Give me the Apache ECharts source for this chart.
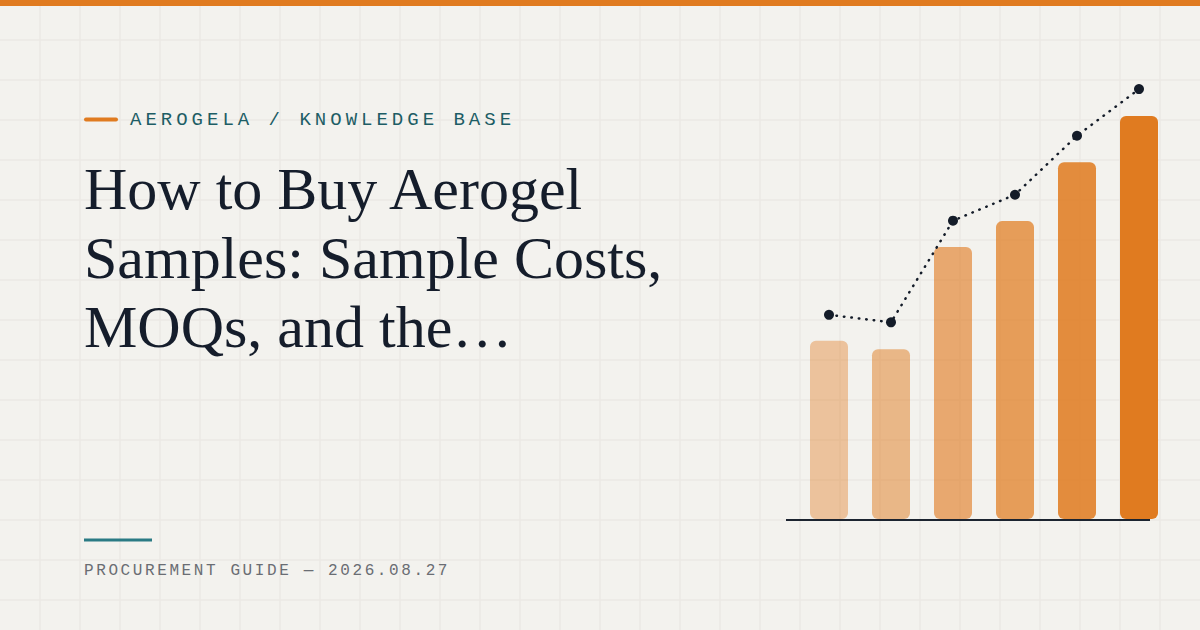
<!DOCTYPE html>
<html>
<head>
<meta charset="utf-8">
<script src="https://cdn.jsdelivr.net/npm/echarts@6/dist/echarts.min.js"></script>
<style>
  html, body { margin: 0; padding: 0; background: #f3f2ee; }
  #chart { width: 1200px; height: 630px; }
  #chart text[style*="Mono"][style*="19px"] { letter-spacing: 4.0px; }
  #chart text[style*="Mono"][style*="16px"] { letter-spacing: 2.6px; }
</style>
</head>
<body>
<div id="chart"></div>
<script>
// ---- data ----
const categories = ['1', '2', '3', '4', '5', '6'];
const barValues = [40.5, 38.6, 61.8, 67.7, 81.1, 91.6];
const lineValues = [46.4, 44.7, 67.8, 73.7, 87.1, 97.7];
const barOpacity = [0.4, 0.5, 0.62, 0.72, 0.86, 1.0];
const eyebrowText = 'AEROGELA / KNOWLEDGE BASE';
const titleLines = ['How to Buy Aerogel', 'Samples: Sample Costs,', 'MOQs, and the\u2026'];
const footerText = 'PROCUREMENT GUIDE \u2014 2026.08.27';

// ---- styling ----
const ORANGE = '#e07b20';
const BG = '#f3f2ee';
const GRIDLINE = '#ebe9e4';

const graphics = [];
for (let x = 40; x < 1200; x += 40) {
  graphics.push({ type: 'line', z: 0, silent: true,
    shape: { x1: x, y1: 0, x2: x, y2: 630 },
    style: { stroke: GRIDLINE, lineWidth: 1.5 } });
}
for (let y = 40; y < 630; y += 40) {
  graphics.push({ type: 'line', z: 0, silent: true,
    shape: { x1: 0, y1: y, x2: 1200, y2: y },
    style: { stroke: GRIDLINE, lineWidth: 1.5 } });
}
graphics.push({ type: 'rect', z: 10, shape: { x: 0, y: 0, width: 1200, height: 6 }, style: { fill: ORANGE } });
graphics.push({ type: 'line', z: 10, shape: { x1: 86, y1: 119.5, x2: 116, y2: 119.5 },
  style: { stroke: ORANGE, lineWidth: 4, lineCap: 'round' } });
graphics.push({ type: 'text', z: 10, x: 130, y: 120,
  style: { text: eyebrowText, fill: '#1d5d65', fontFamily: 'Liberation Mono', fontSize: 19,
    textAlign: 'left', textVerticalAlign: 'middle' } });
titleLines.forEach((t, i) => {
  graphics.push({ type: 'text', z: 10, x: 84, y: 189 + i * 69,
    style: { text: t, fill: '#151d2b', fontFamily: 'Liberation Serif', fontSize: 60,
      textAlign: 'left', textVerticalAlign: 'middle' } });
});
graphics.push({ type: 'rect', z: 10, shape: { x: 84, y: 538.5, width: 68, height: 3 }, style: { fill: '#2a7a84' } });
graphics.push({ type: 'text', z: 10, x: 84, y: 571,
  style: { text: footerText, fill: '#6a6d73', fontFamily: 'Liberation Mono', fontSize: 16,
    textAlign: 'left', textVerticalAlign: 'middle' } });
graphics.push({ type: 'line', z: 10, shape: { x1: 786, y1: 520, x2: 1150, y2: 520 },
  style: { stroke: '#1c2430', lineWidth: 2 } });

const chart = echarts.init(document.getElementById('chart'), null, { renderer: 'svg', width: 1200, height: 630 });
chart.setOption({
  backgroundColor: BG,
  animation: false,
  grid: { left: 798, right: 30, top: 79, bottom: 111, containLabel: false },
  xAxis: { type: 'category', data: categories, show: false },
  yAxis: { type: 'value', min: 0, max: 100, show: false },
  graphic: { elements: graphics },
  series: [
    {
      type: 'bar',
      barWidth: 38,
      z: 2,
      data: barValues.map((v, i) => ({ value: v, itemStyle: { opacity: barOpacity[i] } })),
      itemStyle: { color: ORANGE, borderRadius: 6 }
    },
    {
      type: 'line',
      z: 3,
      data: lineValues,
      symbol: 'circle',
      symbolSize: 10,
      itemStyle: { color: '#141c29' },
      lineStyle: { color: '#141c29', width: 2.5, type: [0.5, 7], cap: 'round' }
    }
  ]
});
</script>
</body>
</html>
